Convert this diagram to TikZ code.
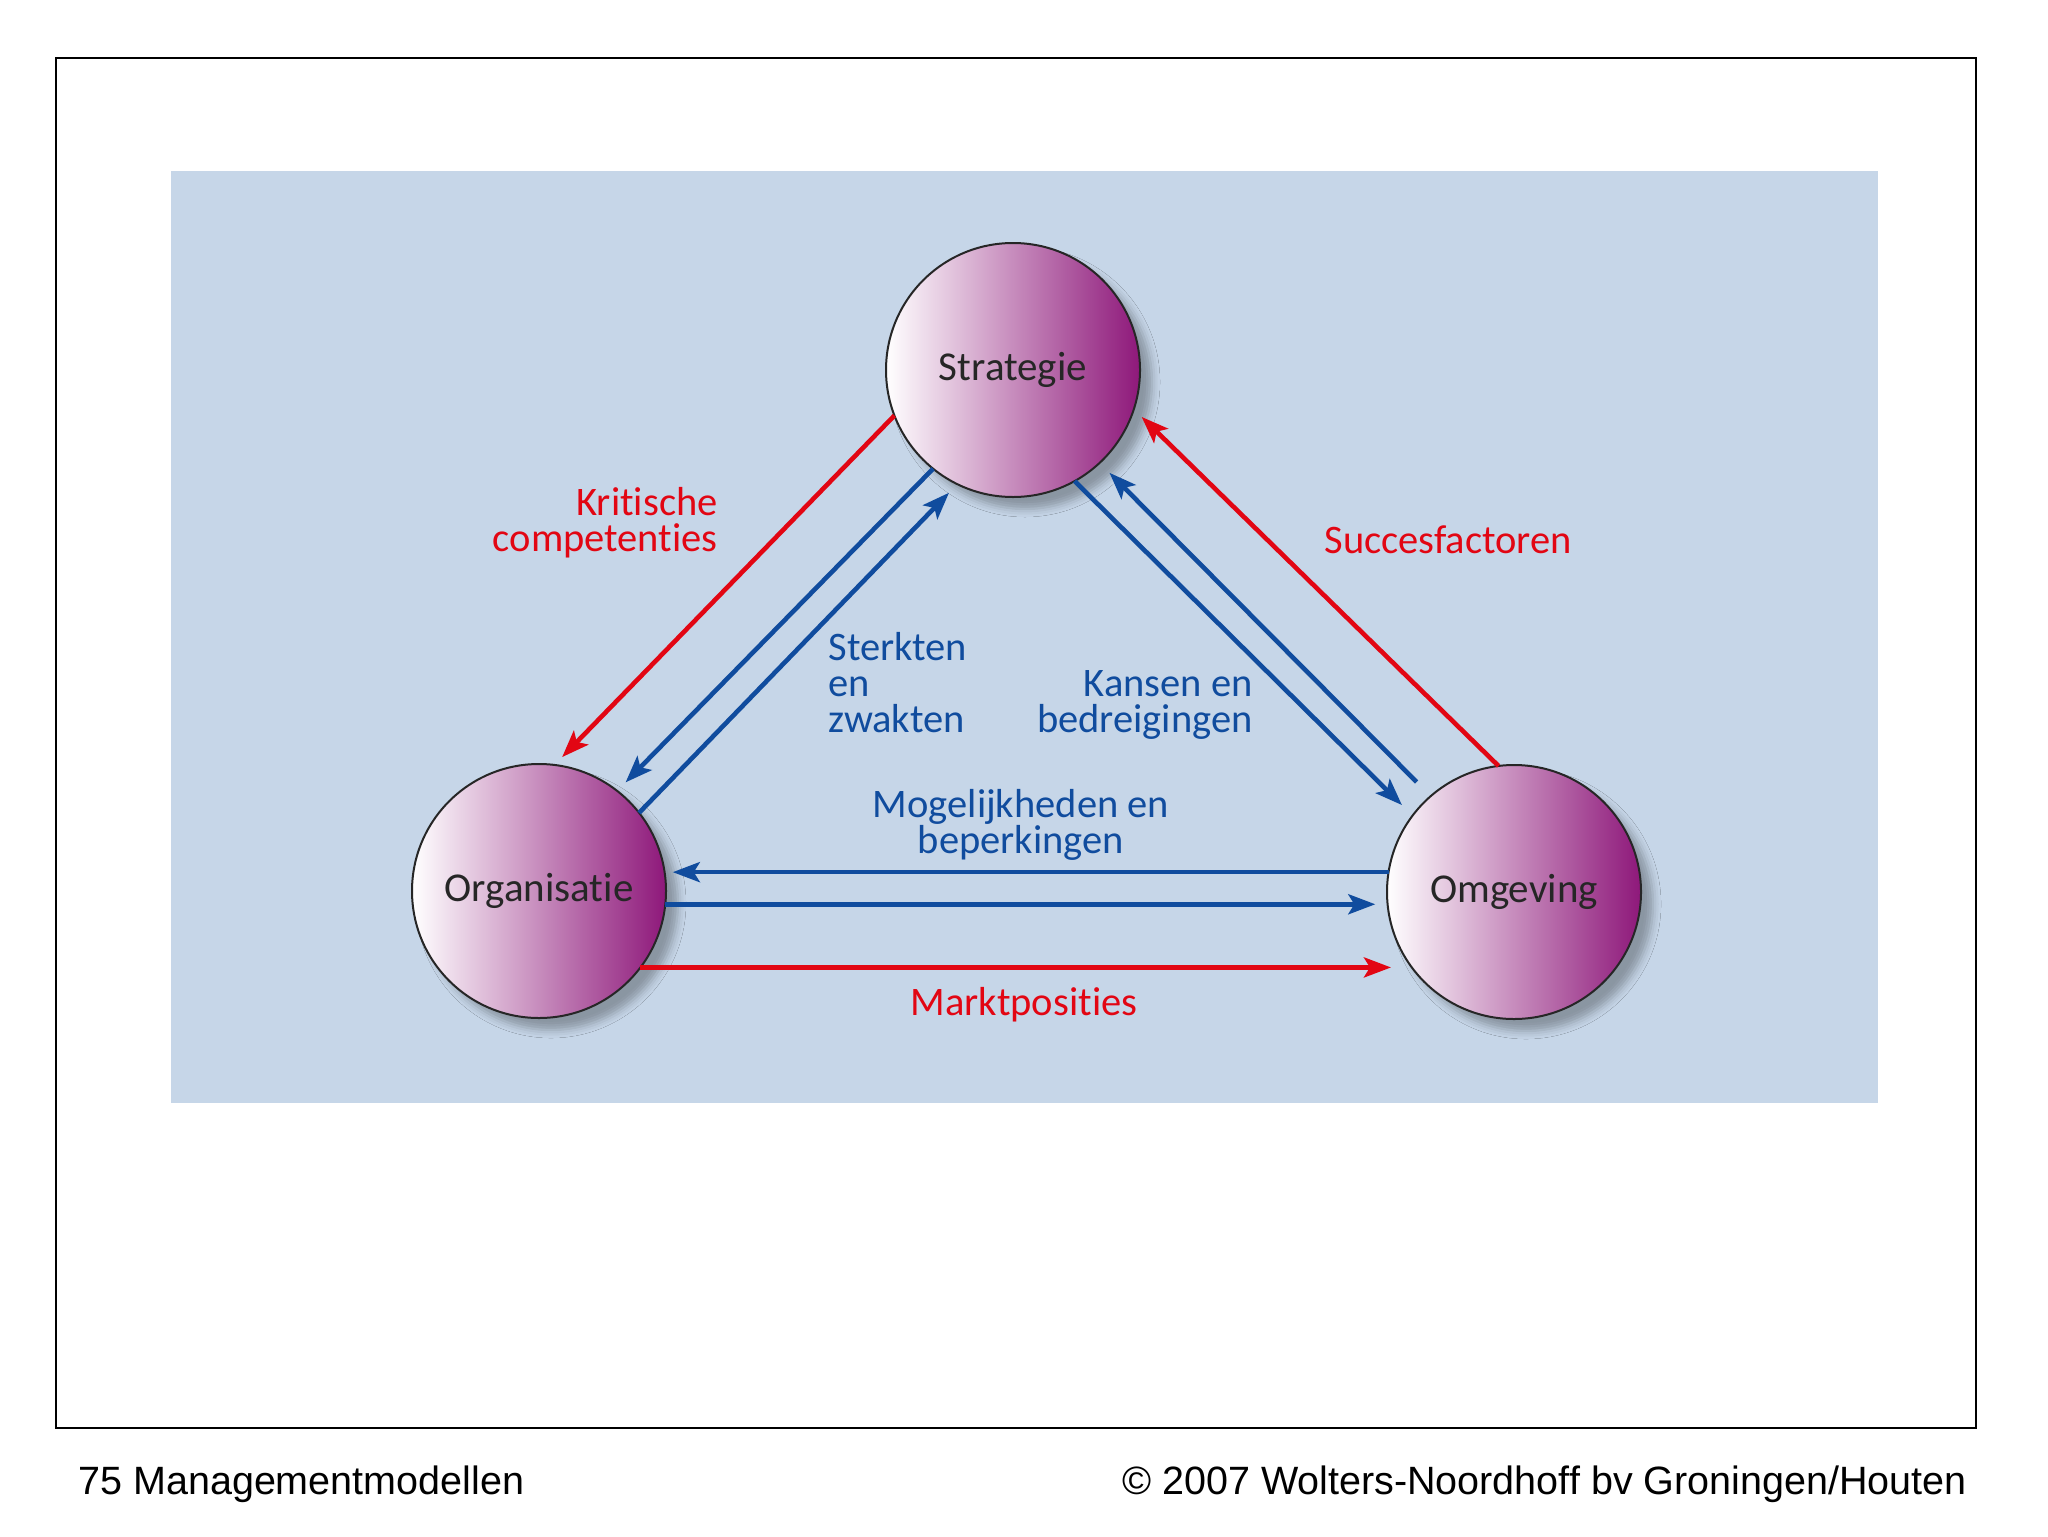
\documentclass[tikz,border=0pt]{standalone}
\usepackage{fontspec}
\setmainfont{Carlito}[Ligatures=NoCommon]
\newfontfamily\voetfont{Liberation Sans}
\usepackage{tikz, xcolor}
\usetikzlibrary{arrows.meta, shadows.blur}

\definecolor{achtergrond}{RGB}{198,214,232}
\definecolor{blauw}{RGB}{16,76,158}
\definecolor{rood}{RGB}{226,6,19}
\definecolor{paars}{RGB}{142,24,122}

\tikzset{
  bol/.style={circle, draw=black!85, line width=1pt, minimum size=127pt, inner sep=0pt, outer sep=0pt,
    shading=axis, left color=white, right color=paars, shading angle=90,
    blur shadow={shadow xshift=6pt, shadow yshift=-6pt, shadow blur radius=4pt, shadow opacity=30},
    font=\fontsize{20.5}{18}\selectfont, text=black!85},
  pijlblauw/.style={color=blauw, line width=2.3pt, -{Stealth[length=13.5pt, width=10pt, inset=3pt]}},
  pijlrood/.style={color=rood, line width=2.3pt, -{Stealth[length=13.5pt, width=10pt, inset=3pt]}},
  tekst/.style={inner sep=0pt, font=\fontsize{20.25}{18}\selectfont}
}

\begin{document}
\begin{tikzpicture}[x=0.5pt, y=-0.5pt]
    \useasboundingbox (0, 0) rectangle (2048, 1536);
    \draw [line width=1.2pt] (56, 58) rectangle (1976, 1428);
    \fill [achtergrond] (171, 171) rectangle (1878, 1103);

    \foreach \naam/\x/\y/\woord in {strategie/1013/370/Strategie, organisatie/539/891/Organisatie, omgeving/1514/892/Omgeving}
    {
      \node [bol] (\naam) at (\x, \y) {\woord};
    }

    \draw [pijlrood, shorten >=5.5pt] (strategie.201.6) to (organisatie.83.3);
    \draw [pijlblauw, shorten >=6pt] (strategie.231.5) to (organisatie.52.3);
    \draw [pijlblauw, shorten >=6pt] (organisatie.38.7) to (strategie.244.5);
    \draw [pijlblauw, shorten >=7.5pt] (strategie.299.5) to (omgeving.143.3);
    \draw [pijlblauw, shorten <=10pt, shorten >=7pt] (omgeving.131.1) to (strategie.313.3);
    \draw [pijlrood, shorten >=5.5pt] (omgeving.97.1) to (strategie.342.7);
    \draw [pijlblauw, shorten >=4pt] (omgeving.171) to (omgeving.171 -| organisatie.8.1);
    \draw [pijlblauw, shorten >=6pt] (organisatie.354.2) to (organisatie.354.2 -| omgeving.184.9);
    \draw [pijlrood, shorten >=9.5pt] (organisatie.323.8) to (organisatie.323.8 -| omgeving.215.6);

    \node [tekst, text=rood, align=right, anchor=base east] (kritisch) at (718, 551) {Kritische\\competenties};
    \node [tekst, text=blauw, align=left, anchor=base west] (sterkten) at (828, 732) {Sterkten\\en\\zwakten};
    \node [tekst, text=blauw, align=right, anchor=base east] (kansen) at (1253, 732) {Kansen en\\bedreigingen};
    \node [tekst, text=rood, anchor=base west] (succes) at (1324, 553) {Succesfactoren};
    \node [tekst, text=blauw, align=center, anchor=base] (mogelijk) at (1021, 853) {Mogelijkheden en\\beperkingen};
    \node [tekst, text=rood, anchor=base] (markt) at (1024, 1015) {Marktposities};

    \node [inner sep=0pt, anchor=base west, font=\voetfont\fontsize{19.75}{22}\selectfont] (titel) at (78, 1494) {75 Managementmodellen};
    \node [inner sep=0pt, anchor=base east, font=\voetfont\fontsize{19.75}{22}\selectfont] (uitgever) at (1967, 1494) {© 2007 Wolters-Noordhoff bv Groningen/Houten};
  \end{tikzpicture}
\end{document}
